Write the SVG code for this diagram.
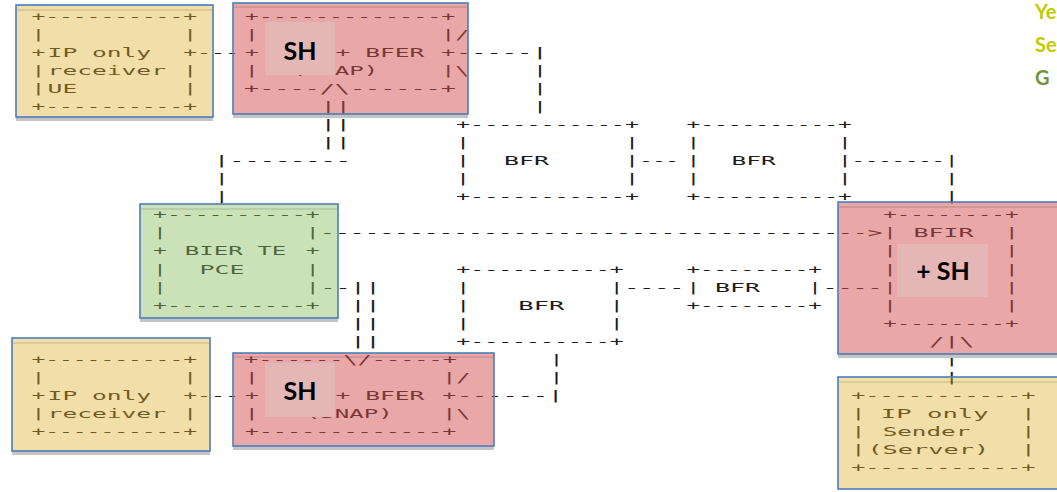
<svg xmlns="http://www.w3.org/2000/svg" width="1057" height="492" viewBox="0 0 1057 492">
<style>
.a{font-family:"DejaVu Sans Mono",monospace;font-size:13px;fill:#1c1c1c}
.box{stroke:#4a7ebb;stroke-width:1.6}
.y{fill:rgb(224,176,48);fill-opacity:.42}
.r{fill:rgb(214,80,80);fill-opacity:.5}
.g{fill:rgb(140,190,100);fill-opacity:.45}
.band{stroke:#000;stroke-opacity:.12;stroke-width:1.3}
.shd{fill:#c4c4c4}
.shq{fill:#e4b6b6}
.sh{font-family:Lato,"Open Sans",sans-serif;font-weight:700;font-size:25px;fill:#000;text-anchor:middle}
.lg{font-family:Lato,"Open Sans",sans-serif;font-weight:700;font-size:20px}
</style>
<rect width="1057" height="492" fill="#fff"/>
<g id="connectors">
<text class="a" x="197" y="56.6" textLength="42" lengthAdjust="spacingAndGlyphs">---</text>
<text class="a" x="455.96" y="56.6" textLength="91.7" lengthAdjust="spacingAndGlyphs">-----|</text>
<text class="a" x="533" y="74.7" textLength="14" lengthAdjust="spacingAndGlyphs">|</text>
<text class="a" x="533" y="92.8" textLength="14" lengthAdjust="spacingAndGlyphs">|</text>
<text class="a" x="533" y="110.9" textLength="14" lengthAdjust="spacingAndGlyphs">|</text>
<text class="a" x="320.8" y="110.9" textLength="30" lengthAdjust="spacingAndGlyphs">||</text>
<text class="a" x="320.8" y="128.9" textLength="30" lengthAdjust="spacingAndGlyphs">||</text>
<text class="a" x="320.8" y="147" textLength="30" lengthAdjust="spacingAndGlyphs">||</text>
<text class="a" x="214.1" y="165.1" textLength="136.8" lengthAdjust="spacingAndGlyphs">|--------</text>
<text class="a" x="214.7" y="183.1" textLength="14" lengthAdjust="spacingAndGlyphs">|</text>
<text class="a" x="214.7" y="201.2" textLength="14" lengthAdjust="spacingAndGlyphs">|</text>
<text class="a" x="639.5" y="165.1" textLength="39" lengthAdjust="spacingAndGlyphs">---</text>
<text class="a" x="851.6" y="165.1" textLength="106.7" lengthAdjust="spacingAndGlyphs">-------|</text>
<text class="a" x="944.7" y="183.1" textLength="14" lengthAdjust="spacingAndGlyphs">|</text>
<text class="a" x="944.7" y="201.2" textLength="14" lengthAdjust="spacingAndGlyphs">|</text>
<text class="a" x="320.1" y="237.3" textLength="562.4" lengthAdjust="spacingAndGlyphs">-------------------------------------&gt;</text>
<text class="a" x="320.5" y="291.6" textLength="60" lengthAdjust="spacingAndGlyphs">--||</text>
<text class="a" x="350.5" y="309.6" textLength="30" lengthAdjust="spacingAndGlyphs">||</text>
<text class="a" x="350.5" y="327.7" textLength="30" lengthAdjust="spacingAndGlyphs">||</text>
<text class="a" x="350.5" y="345.8" textLength="30" lengthAdjust="spacingAndGlyphs">||</text>
<text class="a" x="624.2" y="291.6" textLength="60" lengthAdjust="spacingAndGlyphs">----</text>
<text class="a" x="822.5" y="291.6" textLength="60" lengthAdjust="spacingAndGlyphs">----</text>
<text class="a" x="944.7" y="363.8" textLength="14" lengthAdjust="spacingAndGlyphs">|</text>
<text class="a" x="944.7" y="381.9" textLength="14" lengthAdjust="spacingAndGlyphs">|</text>
<text class="a" x="197" y="400" textLength="42" lengthAdjust="spacingAndGlyphs">---</text>
<text class="a" x="456.9" y="400" textLength="106.4" lengthAdjust="spacingAndGlyphs">------|</text>
<text class="a" x="549.5" y="363.8" textLength="14" lengthAdjust="spacingAndGlyphs">|</text>
<text class="a" x="549.5" y="381.9" textLength="14" lengthAdjust="spacingAndGlyphs">|</text>
</g>
<g id="recv-ue">
<text class="a" x="31.4" y="20.5" textLength="165.6" lengthAdjust="spacingAndGlyphs">+----------+</text>
<text class="a" x="31.4" y="38.6" textLength="165.6" lengthAdjust="spacingAndGlyphs">|&#160;&#160;&#160;&#160;&#160;&#160;&#160;&#160;&#160;&#160;|</text>
<text class="a" x="31.4" y="56.6" textLength="13.8" lengthAdjust="spacingAndGlyphs">+</text>
<text class="a" x="183.2" y="56.6" textLength="13.8" lengthAdjust="spacingAndGlyphs">+</text>
<text class="a" x="31.4" y="74.7" textLength="13.8" lengthAdjust="spacingAndGlyphs">|</text>
<text class="a" x="183.2" y="74.7" textLength="13.8" lengthAdjust="spacingAndGlyphs">|</text>
<text class="a" x="31.4" y="92.8" textLength="13.8" lengthAdjust="spacingAndGlyphs">|</text>
<text class="a" x="183.2" y="92.8" textLength="13.8" lengthAdjust="spacingAndGlyphs">|</text>
<text class="a" x="31.4" y="110.9" textLength="165.6" lengthAdjust="spacingAndGlyphs">+----------+</text>
<text class="a" x="47.6" y="56.6" textLength="103.6" lengthAdjust="spacingAndGlyphs">IP&#160;only</text>
<text class="a" x="47.6" y="74.7" textLength="118.4" lengthAdjust="spacingAndGlyphs">receiver</text>
<text class="a" x="47.6" y="92.8" textLength="29.6" lengthAdjust="spacingAndGlyphs">UE</text>
<rect class="shd" x="16" y="117" width="197" height="4"/>
<rect class="box y" x="16" y="5" width="197" height="112"/>
<line class="band" x1="17" y1="10" x2="212" y2="10"/>
</g>
<g id="bfer-top">
<text class="a" x="244.68" y="20.5" textLength="210.6" lengthAdjust="spacingAndGlyphs">+-------------+</text>
<text class="a" x="244.68" y="38.6" textLength="14.04" lengthAdjust="spacingAndGlyphs">|</text>
<text class="a" x="441.24" y="38.6" textLength="28.08" lengthAdjust="spacingAndGlyphs">|/</text>
<text class="a" x="244.68" y="56.6" textLength="14.04" lengthAdjust="spacingAndGlyphs">+</text>
<text class="a" x="441.24" y="56.6" textLength="14.04" lengthAdjust="spacingAndGlyphs">+</text>
<text class="a" x="244.68" y="74.7" textLength="14.04" lengthAdjust="spacingAndGlyphs">|</text>
<text class="a" x="441.24" y="74.7" textLength="28.08" lengthAdjust="spacingAndGlyphs">|\</text>
<text class="a" x="244.14" y="92.8" textLength="211.68" lengthAdjust="spacingAndGlyphs">+----/\------+</text>
<text class="a" x="335.6" y="56.6" textLength="88.8" lengthAdjust="spacingAndGlyphs">+&#160;BFER</text>
<text class="a" x="291.25" y="75.2" textLength="87" lengthAdjust="spacingAndGlyphs">(&#160;&#160;AP)</text>
<rect class="shd" x="233" y="114" width="235" height="4"/>
<rect class="box r" x="233" y="3" width="235" height="111"/>
<line class="band" x1="234" y1="7" x2="467" y2="7"/>
<rect class="shq" x="265" y="22" width="70" height="53"/>
<text class="sh" x="300" y="59.5">SH</text>
</g>
<g id="bfr-1">
<text class="a" x="456" y="128.9" textLength="183" lengthAdjust="spacingAndGlyphs">+-----------+</text>
<text class="a" x="456" y="147" textLength="183" lengthAdjust="spacingAndGlyphs">|&#160;&#160;&#160;&#160;&#160;&#160;&#160;&#160;&#160;&#160;&#160;|</text>
<text class="a" x="456" y="165.1" textLength="14.08" lengthAdjust="spacingAndGlyphs">|</text>
<text class="a" x="624.96" y="165.1" textLength="14.08" lengthAdjust="spacingAndGlyphs">|</text>
<text class="a" x="456" y="183.1" textLength="183" lengthAdjust="spacingAndGlyphs">|&#160;&#160;&#160;&#160;&#160;&#160;&#160;&#160;&#160;&#160;&#160;|</text>
<text class="a" x="456" y="201.2" textLength="183" lengthAdjust="spacingAndGlyphs">+-----------+</text>
<text class="a" x="504" y="165.1" textLength="45" lengthAdjust="spacingAndGlyphs">BFR</text>
</g>
<g id="bfr-2">
<text class="a" x="686.4" y="128.9" textLength="165.5" lengthAdjust="spacingAndGlyphs">+----------+</text>
<text class="a" x="686.4" y="147" textLength="165.5" lengthAdjust="spacingAndGlyphs">|&#160;&#160;&#160;&#160;&#160;&#160;&#160;&#160;&#160;&#160;|</text>
<text class="a" x="686.4" y="165.1" textLength="13.79" lengthAdjust="spacingAndGlyphs">|</text>
<text class="a" x="838.1" y="165.1" textLength="13.79" lengthAdjust="spacingAndGlyphs">|</text>
<text class="a" x="686.4" y="183.1" textLength="165.5" lengthAdjust="spacingAndGlyphs">|&#160;&#160;&#160;&#160;&#160;&#160;&#160;&#160;&#160;&#160;|</text>
<text class="a" x="686.4" y="201.2" textLength="165.5" lengthAdjust="spacingAndGlyphs">+----------+</text>
<text class="a" x="731.6" y="165.1" textLength="44.1" lengthAdjust="spacingAndGlyphs">BFR</text>
</g>
<g id="pce">
<text class="a" x="153.06" y="219.3" textLength="166.6" lengthAdjust="spacingAndGlyphs">+----------+</text>
<text class="a" x="153.06" y="237.3" textLength="166.6" lengthAdjust="spacingAndGlyphs">|&#160;&#160;&#160;&#160;&#160;&#160;&#160;&#160;&#160;&#160;|</text>
<text class="a" x="153.06" y="255.4" textLength="13.88" lengthAdjust="spacingAndGlyphs">+</text>
<text class="a" x="305.77" y="255.4" textLength="13.88" lengthAdjust="spacingAndGlyphs">+</text>
<text class="a" x="153.06" y="273.5" textLength="13.88" lengthAdjust="spacingAndGlyphs">|</text>
<text class="a" x="305.77" y="273.5" textLength="13.88" lengthAdjust="spacingAndGlyphs">|</text>
<text class="a" x="153.06" y="291.6" textLength="166.6" lengthAdjust="spacingAndGlyphs">|&#160;&#160;&#160;&#160;&#160;&#160;&#160;&#160;&#160;&#160;|</text>
<text class="a" x="153.06" y="309.6" textLength="166.6" lengthAdjust="spacingAndGlyphs">+----------+</text>
<text class="a" x="184.75" y="255.4" textLength="101.5" lengthAdjust="spacingAndGlyphs">BIER&#160;TE</text>
<text class="a" x="199.5" y="273.5" textLength="45" lengthAdjust="spacingAndGlyphs">PCE</text>
<rect class="shd" x="140" y="318" width="198" height="4"/>
<rect class="box g" x="140" y="204" width="198" height="114"/>
<line class="band" x1="141" y1="209" x2="337" y2="209"/>
</g>
<g id="bfir">
<text class="a" x="883.24" y="219.3" textLength="135.2" lengthAdjust="spacingAndGlyphs">+--------+</text>
<text class="a" x="883.24" y="237.3" textLength="13.52" lengthAdjust="spacingAndGlyphs">|</text>
<text class="a" x="1004.9" y="237.3" textLength="13.52" lengthAdjust="spacingAndGlyphs">|</text>
<text class="a" x="883.24" y="255.4" textLength="13.52" lengthAdjust="spacingAndGlyphs">|</text>
<text class="a" x="1004.9" y="255.4" textLength="13.52" lengthAdjust="spacingAndGlyphs">|</text>
<text class="a" x="883.24" y="273.5" textLength="13.52" lengthAdjust="spacingAndGlyphs">|</text>
<text class="a" x="1004.9" y="273.5" textLength="13.52" lengthAdjust="spacingAndGlyphs">|</text>
<text class="a" x="883.24" y="291.6" textLength="13.52" lengthAdjust="spacingAndGlyphs">|</text>
<text class="a" x="1004.9" y="291.6" textLength="13.52" lengthAdjust="spacingAndGlyphs">|</text>
<text class="a" x="883.24" y="309.6" textLength="13.52" lengthAdjust="spacingAndGlyphs">|</text>
<text class="a" x="1004.9" y="309.6" textLength="13.52" lengthAdjust="spacingAndGlyphs">|</text>
<text class="a" x="883.24" y="327.7" textLength="135.2" lengthAdjust="spacingAndGlyphs">+--------+</text>
<text class="a" x="913.5" y="237.3" textLength="60" lengthAdjust="spacingAndGlyphs">BFIR</text>
<text class="a" x="929.2" y="345.8" textLength="45" lengthAdjust="spacingAndGlyphs">/|\</text>
<rect class="shd" x="838" y="354" width="225" height="4"/>
<rect class="box r" x="838" y="202" width="225" height="152"/>
<line class="band" x1="839" y1="207" x2="1057" y2="207"/>
<rect class="shq" x="897" y="244" width="91" height="53"/>
<text class="sh" x="943" y="280">+ SH</text>
</g>
<g id="bfr-3">
<text class="a" x="456.3" y="273.5" textLength="167.4" lengthAdjust="spacingAndGlyphs">+----------+</text>
<text class="a" x="456.3" y="291.6" textLength="167.4" lengthAdjust="spacingAndGlyphs">|&#160;&#160;&#160;&#160;&#160;&#160;&#160;&#160;&#160;&#160;|</text>
<text class="a" x="456.3" y="309.6" textLength="13.95" lengthAdjust="spacingAndGlyphs">|</text>
<text class="a" x="609.75" y="309.6" textLength="13.95" lengthAdjust="spacingAndGlyphs">|</text>
<text class="a" x="456.3" y="327.7" textLength="167.4" lengthAdjust="spacingAndGlyphs">|&#160;&#160;&#160;&#160;&#160;&#160;&#160;&#160;&#160;&#160;|</text>
<text class="a" x="456.3" y="345.8" textLength="167.4" lengthAdjust="spacingAndGlyphs">+----------+</text>
<text class="a" x="518.35" y="309.6" textLength="45.9" lengthAdjust="spacingAndGlyphs">BFR</text>
</g>
<g id="bfr-4">
<text class="a" x="686.5" y="273.5" textLength="135.2" lengthAdjust="spacingAndGlyphs">+--------+</text>
<text class="a" x="686.5" y="291.6" textLength="13.52" lengthAdjust="spacingAndGlyphs">|</text>
<text class="a" x="808.18" y="291.6" textLength="13.52" lengthAdjust="spacingAndGlyphs">|</text>
<text class="a" x="686.5" y="309.6" textLength="135.2" lengthAdjust="spacingAndGlyphs">+--------+</text>
<text class="a" x="715" y="291.6" textLength="45" lengthAdjust="spacingAndGlyphs">BFR</text>
</g>
<g id="bfer-bottom">
<text class="a" x="244.1" y="363.8" textLength="212.8" lengthAdjust="spacingAndGlyphs">+------\/-----+</text>
<text class="a" x="244.65" y="381.9" textLength="14.11" lengthAdjust="spacingAndGlyphs">|</text>
<text class="a" x="442.19" y="381.9" textLength="28.22" lengthAdjust="spacingAndGlyphs">|/</text>
<text class="a" x="244.65" y="400" textLength="14.11" lengthAdjust="spacingAndGlyphs">+</text>
<text class="a" x="442.19" y="400" textLength="14.11" lengthAdjust="spacingAndGlyphs">+</text>
<text class="a" x="244.65" y="418" textLength="14.11" lengthAdjust="spacingAndGlyphs">|</text>
<text class="a" x="442.19" y="418" textLength="28.22" lengthAdjust="spacingAndGlyphs">|\</text>
<text class="a" x="244.65" y="436.1" textLength="211.65" lengthAdjust="spacingAndGlyphs">+-------------+</text>
<text class="a" x="335.6" y="400" textLength="88.8" lengthAdjust="spacingAndGlyphs">+&#160;BFER</text>
<text class="a" x="305.75" y="418" textLength="87" lengthAdjust="spacingAndGlyphs">(SNAP)</text>
<rect class="shd" x="233" y="446" width="261" height="4"/>
<rect class="box r" x="233" y="353" width="261" height="93"/>
<line class="band" x1="234" y1="357" x2="493" y2="357"/>
<rect class="shq" x="265" y="363" width="70" height="54"/>
<text class="sh" x="300" y="400">SH</text>
</g>
<g id="recv">
<text class="a" x="31.4" y="363.8" textLength="165.6" lengthAdjust="spacingAndGlyphs">+----------+</text>
<text class="a" x="31.4" y="381.9" textLength="165.6" lengthAdjust="spacingAndGlyphs">|&#160;&#160;&#160;&#160;&#160;&#160;&#160;&#160;&#160;&#160;|</text>
<text class="a" x="31.4" y="400" textLength="13.8" lengthAdjust="spacingAndGlyphs">+</text>
<text class="a" x="183.2" y="400" textLength="13.8" lengthAdjust="spacingAndGlyphs">+</text>
<text class="a" x="31.4" y="418" textLength="13.8" lengthAdjust="spacingAndGlyphs">|</text>
<text class="a" x="183.2" y="418" textLength="13.8" lengthAdjust="spacingAndGlyphs">|</text>
<text class="a" x="31.4" y="436.1" textLength="165.6" lengthAdjust="spacingAndGlyphs">+----------+</text>
<text class="a" x="47.6" y="400" textLength="103.6" lengthAdjust="spacingAndGlyphs">IP&#160;only</text>
<text class="a" x="47.6" y="418" textLength="118.4" lengthAdjust="spacingAndGlyphs">receiver</text>
<rect class="shd" x="12" y="451" width="198" height="4"/>
<rect class="box y" x="12" y="338" width="198" height="113"/>
<line class="band" x1="13" y1="343" x2="209" y2="343"/>
</g>
<g id="sender">
<text class="a" x="851.2" y="400" textLength="184.2" lengthAdjust="spacingAndGlyphs">+-----------+</text>
<text class="a" x="851.2" y="418" textLength="14.17" lengthAdjust="spacingAndGlyphs">|</text>
<text class="a" x="1021.24" y="418" textLength="14.17" lengthAdjust="spacingAndGlyphs">|</text>
<text class="a" x="851.2" y="436.1" textLength="14.17" lengthAdjust="spacingAndGlyphs">|</text>
<text class="a" x="1021.24" y="436.1" textLength="14.17" lengthAdjust="spacingAndGlyphs">|</text>
<text class="a" x="851.2" y="454.2" textLength="14.17" lengthAdjust="spacingAndGlyphs">|</text>
<text class="a" x="1021.24" y="454.2" textLength="14.17" lengthAdjust="spacingAndGlyphs">|</text>
<text class="a" x="851.2" y="472.3" textLength="184.2" lengthAdjust="spacingAndGlyphs">+-----------+</text>
<text class="a" x="880.8" y="418" textLength="107.9" lengthAdjust="spacingAndGlyphs">IP&#160;only</text>
<text class="a" x="882.7" y="436.1" textLength="87.6" lengthAdjust="spacingAndGlyphs">Sender</text>
<text class="a" x="867.4" y="454.2" textLength="121.9" lengthAdjust="spacingAndGlyphs">(Server)</text>
<rect class="box y" x="838" y="377" width="225" height="112"/>
<line class="band" x1="839" y1="382" x2="1057" y2="382"/>
</g>
<g id="legend">
<text class="lg" x="1035" y="19" fill="#c4c800">Ye</text>
<text class="lg" x="1035" y="52" fill="#c4c800">Se</text>
<text class="lg" x="1035" y="85" fill="#76923c">G</text>
</g>
</svg>
